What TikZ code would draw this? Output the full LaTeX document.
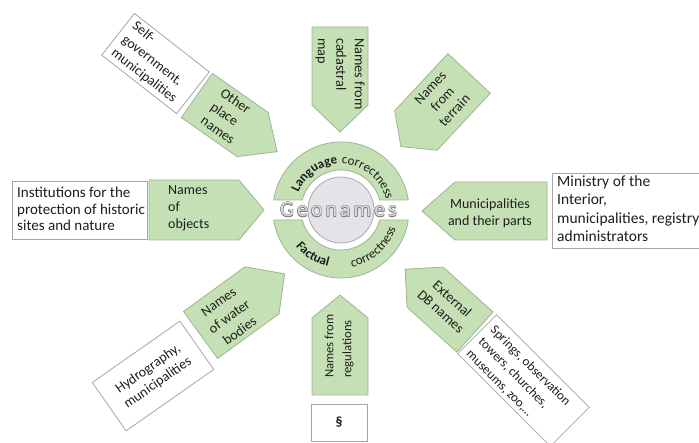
\documentclass[tikz,border=0pt]{standalone}
\usepackage{fontspec}
\setmainfont{Carlito}
\usetikzlibrary{decorations.text,calc}
\definecolor{gfill}{HTML}{C5E0B4}
\definecolor{gline}{HTML}{9FB592}
\definecolor{wline}{HTML}{A6A6A6}
\definecolor{txt}{HTML}{1E1E1E}
\definecolor{cfill}{HTML}{E4E4E8}
\definecolor{cline}{HTML}{A9A9B8}
\definecolor{geoout}{HTML}{7E7E7E}
\definecolor{geoin}{HTML}{DCDCDC}
\tikzset{
  greenbox/.style={fill=gfill, draw=gline, line width=0.8pt},
  whitebox/.style={fill=white, draw=wline, line width=0.8pt},
  lbl/.style={font=\fontsize{14}{17}\selectfont, text=txt, inner sep=0pt, transform shape},
  geo/.style={font=\fontsize{22}{22}\selectfont, anchor=base, inner sep=0pt},
  ringtxt/.style={decorate, decoration={text along path, text align=center, text color=txt, text={#1}}},
}
\newcommand\arrowR[3]{\draw[greenbox] ({-#1/2},{-#2/2}) -- ({#1/2-#3},{-#2/2}) -- ({#1/2},0) -- ({#1/2-#3},{#2/2}) -- ({-#1/2},{#2/2}) -- cycle;}
\newcommand\arrowL[3]{\draw[greenbox] ({#1/2},{-#2/2}) -- ({-#1/2+#3},{-#2/2}) -- ({-#1/2},0) -- ({-#1/2+#3},{#2/2}) -- ({#1/2},{#2/2}) -- cycle;}
\newcommand\wbox[2]{\draw[whitebox] ({-#1/2},{-#2/2}) rectangle ({#1/2},{#2/2});}
\newcommand\geotext{G\kern3pt e\kern3pt o\kern3pt n\kern3pt a\kern3pt m\kern3pt e\kern3pt s}
\begin{document}
\begin{tikzpicture}[x=1pt,y=1pt]
\useasboundingbox (0,0) rectangle (699,442);
\clip (0,0) rectangle (699,442);
\coordinate (C) at (341,232);

% ring segments
\draw[greenbox] (408.26,242) arc[start angle=8.45,end angle=171.55,radius=68] -- (302.27,242) arc[start angle=165.52,end angle=14.48,radius=40] -- cycle;
\draw[greenbox] (408.26,222) arc[start angle=-8.45,end angle=-171.55,radius=68] -- (302.27,222) arc[start angle=-165.52,end angle=-14.48,radius=40] -- cycle;
\node[circle, fill=cfill, draw=cline, line width=0.8pt, minimum size=66pt, inner sep=0pt] (hub) at (C) {};

\path[ringtxt={|\fontsize{13}{13}\selectfont\bfseries|Language}] ($(C)+(162:46)$) arc[start angle=162,end angle=90,radius=46];
\path[ringtxt={|\fontsize{13}{13}\selectfont|correctness}] ($(C)+(90:46)$) arc[start angle=90,end angle=12,radius=46];
\path[ringtxt={|\fontsize{13}{13}\selectfont\bfseries|Factual}] ($(C)+(-155:58)$) arc[start angle=-155,end angle=-89,radius=58];
\path[ringtxt={|\fontsize{13}{13}\selectfont|correctness}] ($(C)+(-88:58)$) arc[start angle=-88,end angle=-10,radius=58];

% Geonames
\foreach \dx/\dy [count=\i] in {0.45/0,-0.45/0,0/0.45,0/-0.45,0.32/0.32,-0.32/0.32,0.32/-0.32,-0.32/-0.32}
  \node[geo, text=geoout] (geoS\i) at ({338.5+\dx},{225+\dy}) {\geotext};
\node[geo, text=geoin] (geo) at (338.5,225) {\geotext};

% left: names of objects
\begin{scope}[shift={(79.5,232)}]
  \wbox{135}{58}
  \node[lbl, font=\fontsize{15}{16.7}\selectfont, align=left, anchor=west] (inst) at (-62.5,1) {Institutions for the\\protection of historic\\sites and nature};
\end{scope}
\begin{scope}[shift={(206.5,232)}]
  \arrowR{115}{60}{25}
  \node[lbl, align=left, anchor=west] (objects) at (-38.5,1.5) {Names\\of\\objects};
\end{scope}

% right: municipalities
\begin{scope}[shift={(646,231.5)}]
  \wbox{188}{75}
  \node[lbl, font=\fontsize{15.5}{18.5}\selectfont, align=left, anchor=west] (ministry) at (-89,2) {Ministry of the\\Interior,\\municipalities, registry\\administrators};
\end{scope}
\begin{scope}[shift={(484.5,231)}]
  \arrowL{125}{58}{33}
  \node[lbl, align=center] (munic) at (5.5,-2) {Municipalities\\and their parts};
\end{scope}

% top: cadastral map
\begin{scope}[shift={(340,362.5)}, rotate=-90]
  \arrowR{105}{56}{27}
  \node[lbl, font=\fontsize{14.3}{18.5}\selectfont, align=left, anchor=west] (cad) at (-41.5,0) {Names from\\cadastral\\map};
\end{scope}

% bottom: regulations
\begin{scope}[shift={(340,97)}, rotate=90]
  \arrowR{100}{56}{23}
  \node[lbl, font=\fontsize{12.7}{18}\selectfont, align=left, anchor=west] (reg) at (-33,1) {Names from\\regulations};
\end{scope}
\begin{scope}[shift={(339,19.5)}]
  \wbox{56}{37}
  \node[lbl, font=\fontsize{14}{17}\selectfont\bfseries] (para) at (0,0) {§};
\end{scope}

% upper left: other place names
\begin{scope}[shift={(155.5,378.5)}, rotate=-38]
  \wbox{95}{53}
  \node[lbl, align=left, anchor=west] (self) at (-41,0) {Self-\\government,\\municipalities};
\end{scope}
\begin{scope}[shift={(237,318.4)}, rotate=-35]
  \arrowR{98}{54}{30}
  \node[lbl, align=left, anchor=west] (other) at (-31,1) {Other\\place\\names};
\end{scope}

% upper right: terrain
\begin{scope}[shift={(435,332)}, rotate=47]
  \arrowL{100}{58}{22}
  \node[lbl, font=\fontsize{14}{16.5}\selectfont, align=center] (terrain) at (13,2) {Names\\from\\terrain};
\end{scope}

% lower left: water bodies
\begin{scope}[shift={(153,66)}, rotate=35]
  \wbox{107}{59}
  \node[lbl, align=center] (hydro) at (0,0) {Hydrography,\\municipalities};
\end{scope}
\begin{scope}[shift={(242.6,137.6)}, rotate=36]
  \arrowR{104}{58}{28}
  \node[lbl, font=\fontsize{14}{18}\selectfont, align=center] (water) at (-18,-2) {Names\\of water\\bodies};
\end{scope}

% lower right: external DB
\begin{scope}[shift={(440,141.4)}, rotate=-42]
  \arrowL{94}{54}{27}
  \node[lbl, align=center] (extdb) at (8,1) {External\\DB names};
\end{scope}
\begin{scope}[shift={(523.5,61.5)}, rotate=-45]
  \wbox{131}{55}
  \node[lbl, font=\fontsize{13}{17}\selectfont, align=left, anchor=west] (springs) at (-59,-2) {Springs, observation\\towers, churches,\\museums, zoo,…};
\end{scope}
\end{tikzpicture}
\end{document}
